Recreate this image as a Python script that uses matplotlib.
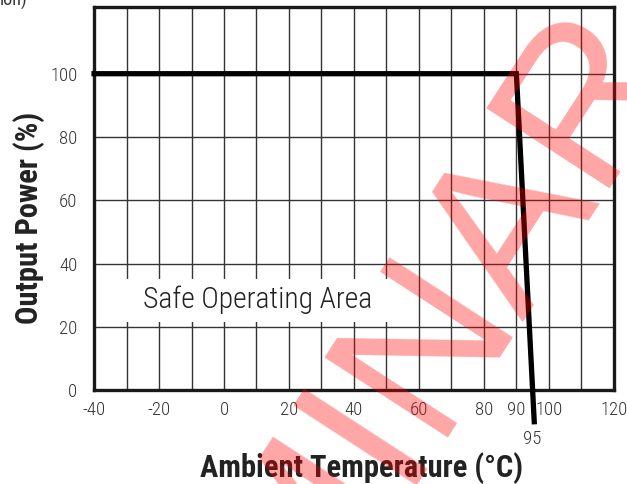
import matplotlib
matplotlib.use("Agg")
import matplotlib.pyplot as plt
from matplotlib.patches import Rectangle

# derating curve (ambient temp in C vs output power in %)
temp = [-40, 90, 95, 95.5]
power = [100, 100, 0, -10]

xticks = [-40, -30, -20, -10, 0, 10, 20, 30, 40, 50, 60, 70, 80, 90, 100, 110, 120]
xlabels = ['-40', '', '-20', '', '0', '', '20', '', '40', '', '60', '', '80', '90', '100', '', '120']
yticks = [0, 20, 40, 60, 80, 100]
ylabels = ['0', '20', '40', '60', '80', '100']

narrow = ['Roboto Condensed', 'IBM Plex Sans Condensed', 'DejaVu Sans']
tick_kw = dict(family=narrow, fontsize=13.5, color='#333333', fontweight='light')

fig = plt.figure(figsize=(6.27, 4.84), dpi=100)
ax = fig.add_axes([0.150, 0.194, 0.829, 0.791])

ax.set_xlim(-40, 120)
ax.set_ylim(0, 121)

ax.set_xticks(xticks, xlabels, **tick_kw)
ax.set_yticks(yticks, ylabels, **tick_kw)
ax.set_xticks([95], ['95'], minor=True, **tick_kw)
ax.tick_params(which='both', length=0)
ax.tick_params(axis='x', which='major', pad=8)
ax.tick_params(axis='x', which='minor', pad=29)
ax.tick_params(axis='y', pad=12)

ax.grid(True, which='major', color='#333333', linewidth=1.0)
ax.set_axisbelow(True)
for s in ax.spines.values():
    s.set_linewidth(2.4)
    s.set_color('#1a1a1a')

# white box behind label
ax.add_patch(Rectangle((-38, 21.5), 93, 13.5, facecolor='white', edgecolor='none', zorder=1.5))
ax.text(10.5, 28.5, 'Safe Operating Area', family=narrow, fontsize=21.3, color='#222222',
        fontweight='light', ha='center', va='center', zorder=2)

ax.plot(temp, power, color='black', linewidth=3.8, clip_on=False, zorder=3,
        solid_joinstyle='miter')

ax.set_xlabel('Ambient Temperature (°C)', family=narrow, fontsize=22, fontweight='bold',
              color='#222222')
ax.set_ylabel('Output Power (%)', family=narrow, fontsize=22, fontweight='bold',
              color='#222222')
ax.xaxis.set_label_coords(0.515, -0.163)
ax.yaxis.set_label_coords(-0.094, 0.449)

# cut-off title fragment top-left
fig.text(0.0, 1.0, 'ion)', family=narrow, fontsize=13, color='#333333', ha='left', va='center')

# watermark
fig.text(0.572, -0.131, 'PRELIMINARY', family=['Liberation Sans', 'DejaVu Sans'],
         fontsize=154, color='red', alpha=0.35, rotation=57, rotation_mode='anchor',
         ha='center', va='baseline', zorder=10)

fig.savefig('out.png', dpi=100)
